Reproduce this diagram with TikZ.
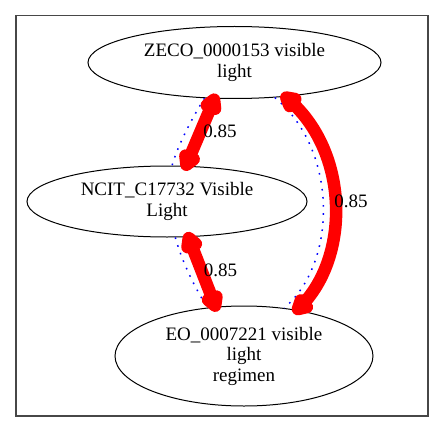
\documentclass[tikz,border=0pt]{standalone}
\usepackage{fontspec}
\setmainfont{Liberation Serif}
\usetikzlibrary{shapes.geometric,decorations.markings}
\tikzset{
  ell/.style={draw=black, line width=1pt, ellipse, inner sep=0pt, align=center,
    font=\fontsize{19}{20.5}\selectfont},
  lbl/.style={inner sep=0pt, font=\fontsize{19}{20.5}\selectfont},
  blob/.style={draw=red, fill=red, line width=12.5pt, line join=round, line cap=round},
  redge/.style={draw=red, line width=12.5pt,
    postaction={decorate, decoration={markings,
      mark=at position 0.001 with {\path[blob] (1,0) -- (9,4.5) -- (9,-4.5) -- cycle;},
      mark=at position 0.999 with {\path[blob] (-1,0) -- (-9,4.5) -- (-9,-4.5) -- cycle;}}}},
  bedge/.style={draw=blue, line width=1.5pt, dash pattern=on 1.6pt off 6.5pt},
  frame/.style={draw=black!72, line width=1.3pt}
}
\begin{document}
\begin{tikzpicture}[x=1pt,y=-1pt]
\useasboundingbox (0,0) rectangle (444,433);
\draw[frame] (16,15.5) rectangle (428,416);
\node[ell, minimum width=293pt, minimum height=72pt] (A) at (234.5,62.5) {ZECO\_0000153 visible\\light};
\node[ell, minimum width=280pt, minimum height=71pt] (B) at (167,201.5) {NCIT\_C17732 Visible\\Light};
\node[ell, minimum width=258pt, minimum height=100pt] (C) at (244,356) {EO\_0007221 visible\\light\\regimen};
% blue dotted edges
\draw[bedge] (A.-130.3) .. controls (192,118) and (178,145) .. (B.82);
\draw[bedge] (B.-77) .. controls (182,262) and (196,290) .. (C.127.7);
\draw[bedge] (A.-41.7) .. controls (338,150) and (338,262) .. (C.50.7);
% red edges
\path[redge] (A.-119) -- (B.62);
\path[redge] (B.-59.4) -- (C.120);
\path[redge] (A.-34) .. controls (351,150) and (351,261) .. (C.41.4);
% labels
\node[lbl] (l1) at (220,131) {0.85};
\node[lbl] (l2) at (220.5,270) {0.85};
\node[lbl] (l3) at (351,201) {0.85};
\end{tikzpicture}
\end{document}
